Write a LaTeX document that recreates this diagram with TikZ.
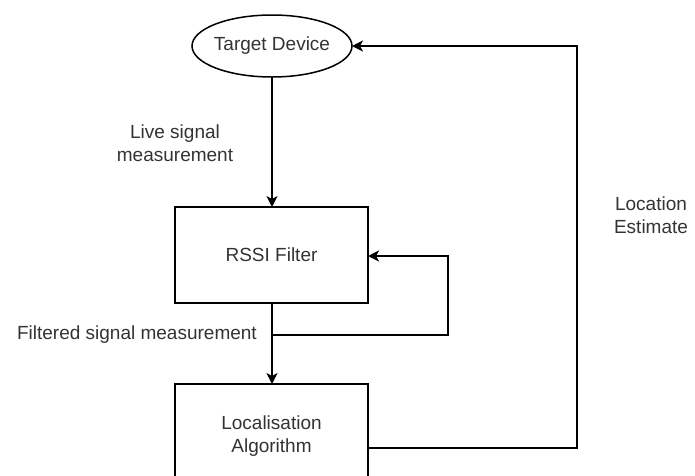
\documentclass[tikz,border=0pt]{standalone}
\usepackage{fontspec}
\setmainfont{Liberation Sans}
\usetikzlibrary{arrows.meta,shapes.geometric}
\definecolor{txt}{RGB}{51,51,51}
\begin{document}
\begin{tikzpicture}[x=1pt,y=-1pt,
  every node/.style={font=\fontsize{19}{23}\selectfont, text=txt},
  box/.style={draw, line width=1.5pt},
  conn/.style={line width=1.5pt},
  arr/.style={conn, -{Stealth[length=11pt,width=11pt,inset=3pt]}},
  lbl/.style={align=center, inner sep=0pt}]
  \useasboundingbox (0,0) rectangle (695,475);
  % shapes
  \draw[box] (272,46) ellipse [x radius=80, y radius=31];
  \node[inner sep=0pt] (dev) at (272,46) {Target Device};
  \coordinate (devR) at (352,46);
  \coordinate (devB) at (272,77);
  \draw[box] (175,207) rectangle (368,303);
  \node (rssi) at (271.5,255) {RSSI Filter};
  \coordinate (rssiT) at (272,207);
  \coordinate (rssiB) at (272,303);
  \coordinate (rssiR) at (368,256);
  \draw[box] (175,384) rectangle (368,490);
  \node[lbl] (loc) at (271.5,436) {Localisation\\Algorithm};
  \coordinate (locT) at (272,384);
  \coordinate (locR) at (368,448);
  % junctions and corners
  \coordinate (split) at (272,335);
  \coordinate (fb1) at (448,335);
  \coordinate (fb2) at (448,256);
  \coordinate (est1) at (577,448);
  \coordinate (est2) at (577,46);
  % connectors
  \draw[arr] (devB) -- (rssiT);
  \draw[conn] (rssiB) -- (split);
  \draw[arr] (split) -- (locT);
  \draw[arr] (split) -- (fb1) -- (fb2) -- (rssiR);
  \draw[arr] (locR) -- (est1) -- (est2) -- (devR);
  % labels
  \node[lbl] (l1) at (175,143.5) {Live signal\\measurement};
  \node[lbl, anchor=east] (l2) at (257,335) {Filtered signal measurement};
  \node[lbl] (l3) at (651,215) {Location\\Estimate};
\end{tikzpicture}
\end{document}
